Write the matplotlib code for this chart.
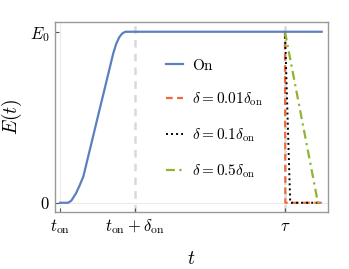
import numpy as np
import matplotlib.pyplot as plt

plt.rcParams['mathtext.fontset'] = 'cm'
plt.rcParams['font.family'] = 'serif'
plt.rcParams['font.serif'] = ['DejaVu Serif']

# datos (t_on = 0, delta_on = 1, E0 = 1)
t_on_curve = [0.0, 0.107, 0.15, 0.213, 0.26, 0.31, 0.436, 0.48, 0.533, 0.6, 0.71, 0.75, 0.79, 0.83, 0.87, 1.0, 3.49]
E_on_curve = [0.0, 0.0, 0.012, 0.055, 0.1, 0.152, 0.379, 0.459, 0.555, 0.675, 0.874, 0.93, 0.968, 0.99, 1.0, 1.0, 1.0]

t_off_001 = [3.0, 3.005, 3.49]
E_off_001 = [1.0, 0.0, 0.0]
t_off_01 = [3.0, 3.07, 3.49]
E_off_01 = [1.0, 0.0, 0.0]
t_off_05 = [3.0, 3.44, 3.49]
E_off_05 = [1.0, 0.0, 0.0]

xticks = [0, 1, 3]
xtick_labels = [r'$t_{\rm on}$', r'$t_{\rm on}+\delta_{\rm on}$', r'$\tau$']
yticks = [0, 1]
ytick_labels = [r'$0$', r'$E_0$']

fig = plt.figure(figsize=(3.49, 2.69), dpi=100)
ax = fig.add_axes([55/349, 1-212/269, (327.7-55)/349, (212-22)/269])

ax.axhline(0, color='#ececec', lw=0.8, zorder=0)
ax.axvline(0, color='#ececec', lw=0.8, zorder=0)
ax.axvline(1, color='#d9d9d9', lw=1.8, ls=(0, (3, 2.5)), zorder=1)
ax.axvline(3, color='#d9d9d9', lw=1.8, ls=(0, (3, 2.5)), zorder=1)

ax.plot(t_off_001, E_off_001, color='#ee6a3b', lw=1.6, ls=(0, (3, 2)), label=r'$\delta=0.01\delta_{\rm on}$', zorder=3)
ax.plot(t_off_01, E_off_01, color='black', lw=1.4, ls=(0, (1, 1.6)), label=r'$\delta=0.1\delta_{\rm on}$', zorder=3)
ax.plot(t_off_05, E_off_05, color='#8fb52e', lw=1.6, ls=(0, (4, 2, 1, 2)), label=r'$\delta=0.5\delta_{\rm on}$', zorder=3)
ax.plot(t_on_curve, E_on_curve, color='#5b80bd', lw=1.6, label=r'$\mathrm{On}$', zorder=4)

handles, labels = ax.get_legend_handles_labels()
order = [3, 0, 1, 2]
ax.legend([handles[i] for i in order], [labels[i] for i in order],
          loc='center left', bbox_to_anchor=(0.355, 0.49), frameon=False,
          labelspacing=1.2, handlelength=1.15, handletextpad=0.6,
          prop={'family': 'serif', 'size': 11})

ax.set_xlim(-0.067, 3.57)
ax.set_ylim(-0.054, 1.057)
ax.set_xticks(xticks)
ax.set_xticklabels(xtick_labels, fontsize=12)
ax.set_yticks(yticks)
ax.set_yticklabels(ytick_labels, fontsize=12)
ax.tick_params(direction='in', length=3, width=0.8, color='#555555', pad=4)
for s in ax.spines.values():
    s.set_color('#999999')
    s.set_linewidth(1.0)

ax.set_xlabel(r'$t$', fontsize=14, labelpad=10)
ax.set_ylabel(r'$E(t)$', fontsize=14, labelpad=4)

fig.savefig('out.png', dpi=100)
